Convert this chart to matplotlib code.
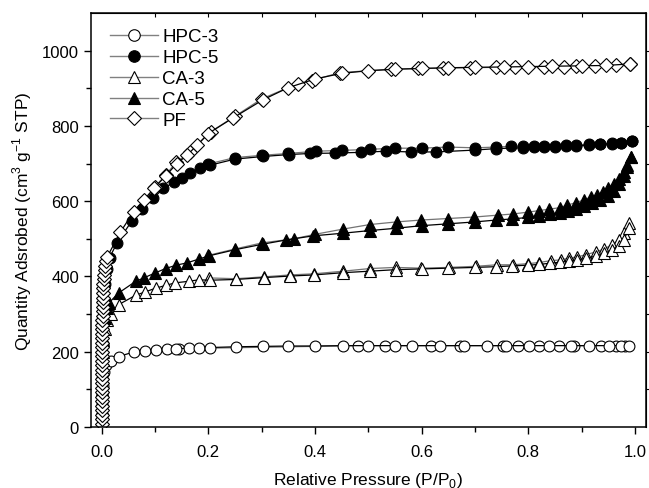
import matplotlib
matplotlib.use("Agg")
import matplotlib.pyplot as plt
from matplotlib.lines import Line2D

plt.rcParams['font.family'] = ['Liberation Sans', 'DejaVu Sans']

# HPC-3
hpc3_ads_x = [0.0005, 0.001, 0.002, 0.004, 0.008, 0.017, 0.032, 0.06, 0.082, 0.102, 0.123, 0.14, 0.163,
              0.182, 0.204, 0.252, 0.302, 0.35, 0.40, 0.453, 0.50, 0.55, 0.581, 0.634, 0.68, 0.722, 0.758,
              0.802, 0.839, 0.88, 0.914, 0.951, 0.973, 0.989]
hpc3_ads_y = [30, 70, 110, 145, 165, 175, 187, 199, 202, 204, 206, 208, 209,
              210, 211, 213, 214, 215, 215, 216, 216, 216, 216, 216, 216, 216, 216,
              216, 216, 216, 216, 216, 216, 216]
hpc3_des_x = [0.982, 0.964, 0.936, 0.886, 0.858, 0.82, 0.78, 0.752, 0.671, 0.618, 0.531, 0.481, 0.146]
hpc3_des_y = [216, 216, 216, 216, 216, 216, 216, 216, 216, 216, 216, 216, 208]

# HPC-5
hpc5_ads_x = [0.0005, 0.001, 0.002, 0.004, 0.007, 0.01, 0.015, 0.029, 0.057, 0.076, 0.097, 0.116, 0.136,
              0.15, 0.166, 0.185, 0.204, 0.25, 0.303, 0.351, 0.39, 0.437, 0.487, 0.534, 0.58, 0.627,
              0.70, 0.74, 0.79, 0.81, 0.83, 0.85, 0.87, 0.89, 0.914, 0.935, 0.956, 0.973, 0.994]
hpc5_ads_y = [60, 130, 220, 310, 380, 420, 450, 489, 548, 579, 608, 634, 651,
              661, 674, 688, 696, 712, 719, 724, 727, 728, 730, 733, 731, 731,
              736, 740, 742, 743, 744, 745, 746, 747, 749, 751, 753, 755, 760]
hpc5_des_x = [0.994, 0.973, 0.956, 0.935, 0.914, 0.89, 0.87, 0.85, 0.83, 0.81, 0.79, 0.768, 0.74,
              0.70, 0.649, 0.60, 0.55, 0.503, 0.45, 0.402, 0.35, 0.30, 0.25, 0.20]
hpc5_des_y = [760, 756, 754, 752, 751, 750, 749, 748, 748, 747, 746, 746, 744,
              742, 744, 741, 741, 738, 735, 733, 727, 722, 716, 699]

# CA-3
ca3_ads_x = [0.0005, 0.001, 0.003, 0.006, 0.01, 0.017, 0.032, 0.064, 0.082, 0.102, 0.12, 0.138, 0.163,
             0.182, 0.204, 0.252, 0.305, 0.353, 0.398, 0.453, 0.503, 0.551, 0.60, 0.65, 0.70, 0.74,
             0.77, 0.80, 0.82, 0.84, 0.86, 0.877, 0.892, 0.908, 0.926, 0.942, 0.956, 0.969, 0.979, 0.989]
ca3_ads_y = [50, 100, 200, 260, 285, 299, 325, 350, 359, 369, 376, 383, 387,
             391, 390, 392, 397, 401, 404, 410, 414, 418, 420, 422, 424, 426,
             428, 430, 432, 435, 438, 441, 444, 448, 454, 461, 470, 482, 498, 528]
ca3_des_x = [0.989, 0.979, 0.969, 0.956, 0.942, 0.926, 0.908, 0.892, 0.877, 0.861, 0.842, 0.82, 0.799,
             0.771, 0.741, 0.702, 0.651, 0.599, 0.551, 0.503, 0.453, 0.398, 0.353, 0.305, 0.252, 0.202]
ca3_des_y = [541, 515, 497, 484, 473, 465, 458, 452, 449, 444, 442, 437, 434,
             431, 431, 427, 424, 422, 424, 421, 414, 407, 404, 399, 394, 396]

# CA-5
ca5_ads_x = [0.0005, 0.001, 0.003, 0.006, 0.01, 0.014, 0.032, 0.064, 0.079, 0.10, 0.12, 0.14, 0.16,
             0.182, 0.202, 0.25, 0.303, 0.346, 0.397, 0.453, 0.503, 0.551, 0.60, 0.65, 0.70, 0.74,
             0.77, 0.80, 0.82, 0.84, 0.86, 0.875, 0.89, 0.905, 0.92, 0.935, 0.95, 0.96, 0.97, 0.98,
             0.985, 0.992]
ca5_ads_y = [60, 130, 230, 290, 315, 330, 356, 387, 396, 409, 421, 430, 436,
             446, 455, 471, 486, 497, 508, 515, 522, 528, 535, 540, 545, 550,
             553, 557, 561, 565, 570, 575, 580, 587, 594, 603, 615, 628, 645, 668,
             690, 718]
ca5_des_x = [0.992, 0.985, 0.979, 0.97, 0.96, 0.949, 0.94, 0.929, 0.917, 0.905, 0.889, 0.873, 0.86,
             0.839, 0.82, 0.799, 0.771, 0.743, 0.699, 0.649, 0.599, 0.553, 0.503, 0.453, 0.40, 0.36,
             0.30, 0.25, 0.20]
ca5_des_y = [718, 696, 678, 660, 647, 636, 625, 616, 611, 604, 596, 590, 583,
             579, 575, 571, 566, 563, 558, 554, 550, 545, 538, 526, 512, 500,
             489, 473, 456]

# PF
pf_ads_x = [0.0, 0.0, 0.0, 0.0, 0.0, 0.0, 0.0, 0.0, 0.0, 0.0, 0.0005, 0.0005, 0.0005, 0.0005, 0.0005,
            0.0005, 0.001, 0.001, 0.001, 0.001, 0.001, 0.0015, 0.0015, 0.0015, 0.002, 0.002, 0.002,
            0.0025, 0.0025, 0.003, 0.003, 0.0035, 0.004, 0.005, 0.006, 0.007, 0.009, 0.011,
            0.035, 0.06, 0.079, 0.098, 0.12, 0.141, 0.16, 0.179, 0.2, 0.247, 0.303, 0.35, 0.4, 0.45,
            0.5, 0.55, 0.6, 0.65, 0.7, 0.755, 0.8, 0.845, 0.9, 0.945, 0.99]
pf_ads_y = [8, 20, 32, 44, 56, 68, 80, 92, 104, 116, 128, 140, 152, 164, 176,
            188, 200, 212, 224, 236, 248, 260, 272, 284, 296, 308, 320,
            332, 344, 356, 368, 380, 392, 404, 416, 428, 440, 453,
            517, 572, 603, 634, 667, 700, 722, 749, 780, 822, 870, 902, 925, 940,
            947, 951, 953, 955, 956, 957, 958, 959, 960, 961, 965]
pf_des_x = [0.99, 0.965, 0.925, 0.89, 0.867, 0.83, 0.774, 0.74, 0.69, 0.64, 0.593, 0.543, 0.447,
            0.394, 0.368, 0.30, 0.25, 0.205, 0.165, 0.14, 0.12, 0.10]
pf_des_y = [965, 961, 960, 959, 958, 957, 956, 956, 955, 954, 953, 951, 942,
            921, 913, 872, 826, 785, 730, 703, 670, 638]

labels = ["HPC-3", "HPC-5", "CA-3", "CA-5", "PF"]
markers = ["o", "o", "^", "^", "D"]
faces = ["white", "black", "white", "black", "white"]
sizes = [7.8, 7.8, 8.5, 8.5, 7.0]

series = [
    (hpc3_ads_x, hpc3_ads_y, hpc3_des_x, hpc3_des_y),
    (hpc5_ads_x, hpc5_ads_y, hpc5_des_x, hpc5_des_y),
    (ca3_ads_x, ca3_ads_y, ca3_des_x, ca3_des_y),
    (ca5_ads_x, ca5_ads_y, ca5_des_x, ca5_des_y),
    (pf_ads_x, pf_ads_y, pf_des_x, pf_des_y),
]

fig = plt.figure(figsize=(6.49, 4.89), dpi=100)
ax = fig.add_axes([0.140, 0.125, 0.855, 0.846])

handles = []
for (ax_x, ax_y, dx, dy), lab, m, fc, ms in zip(series, labels, markers, faces, sizes):
    ax.plot(dx, dy, color="0.45", lw=0.9, marker=m, ms=ms, mfc=fc, mec="black", mew=0.8)
    ax.plot(ax_x, ax_y, color="black", lw=0.9, marker=m, ms=ms, mfc=fc, mec="black", mew=0.8)
    handles.append(Line2D([], [], color="0.5", lw=1.0, marker=m, ms=ms + 0.5, mfc=fc,
                          mec="black", mew=0.8, label=lab))

ax.set_xlim(-0.02, 1.02)
ax.set_ylim(0, 1100)
ax.set_xticks([0.0, 0.2, 0.4, 0.6, 0.8, 1.0])
ax.set_xticks([0.1, 0.3, 0.5, 0.7, 0.9], minor=True)
ax.set_yticks([0, 200, 400, 600, 800, 1000])
ax.set_yticks([100, 300, 500, 700, 900], minor=True)
ax.tick_params(which="both", direction="out", labelsize=12, width=1.0, colors="black")
ax.tick_params(which="major", length=5)
ax.tick_params(which="minor", length=3.5)
ax.tick_params(axis="x", pad=7)

top = ax.secondary_xaxis("top")
top.set_xticks([0.1, 0.2, 0.3, 0.4, 0.5, 0.6, 0.7, 0.8, 0.9])
top.tick_params(direction="in", length=3, labeltop=False)
right = ax.secondary_yaxis("right")
right.set_yticks([100, 200, 300, 400, 500, 600, 700, 800, 900, 1000])
right.tick_params(direction="out", length=3, labelright=False)

for s in ax.spines.values():
    s.set_linewidth(1.1)

ax.set_xlabel("Relative Pressure (P/P$_{\\mathregular{0}}$)", fontsize=12.5, labelpad=8)
ax.set_ylabel("Quantity Adsrobed (cm$^{\\mathregular{3}}$ g$^{\\mathregular{-1}}$ STP)", fontsize=12.5, labelpad=6)

ax.legend(handles=handles, loc="upper left", frameon=False, fontsize=13.5, handlelength=2.6,
          labelspacing=0.2, handletextpad=0.2, borderaxespad=0.3, bbox_to_anchor=(0.01, 0.995))

fig.savefig("out.png", dpi=100)
